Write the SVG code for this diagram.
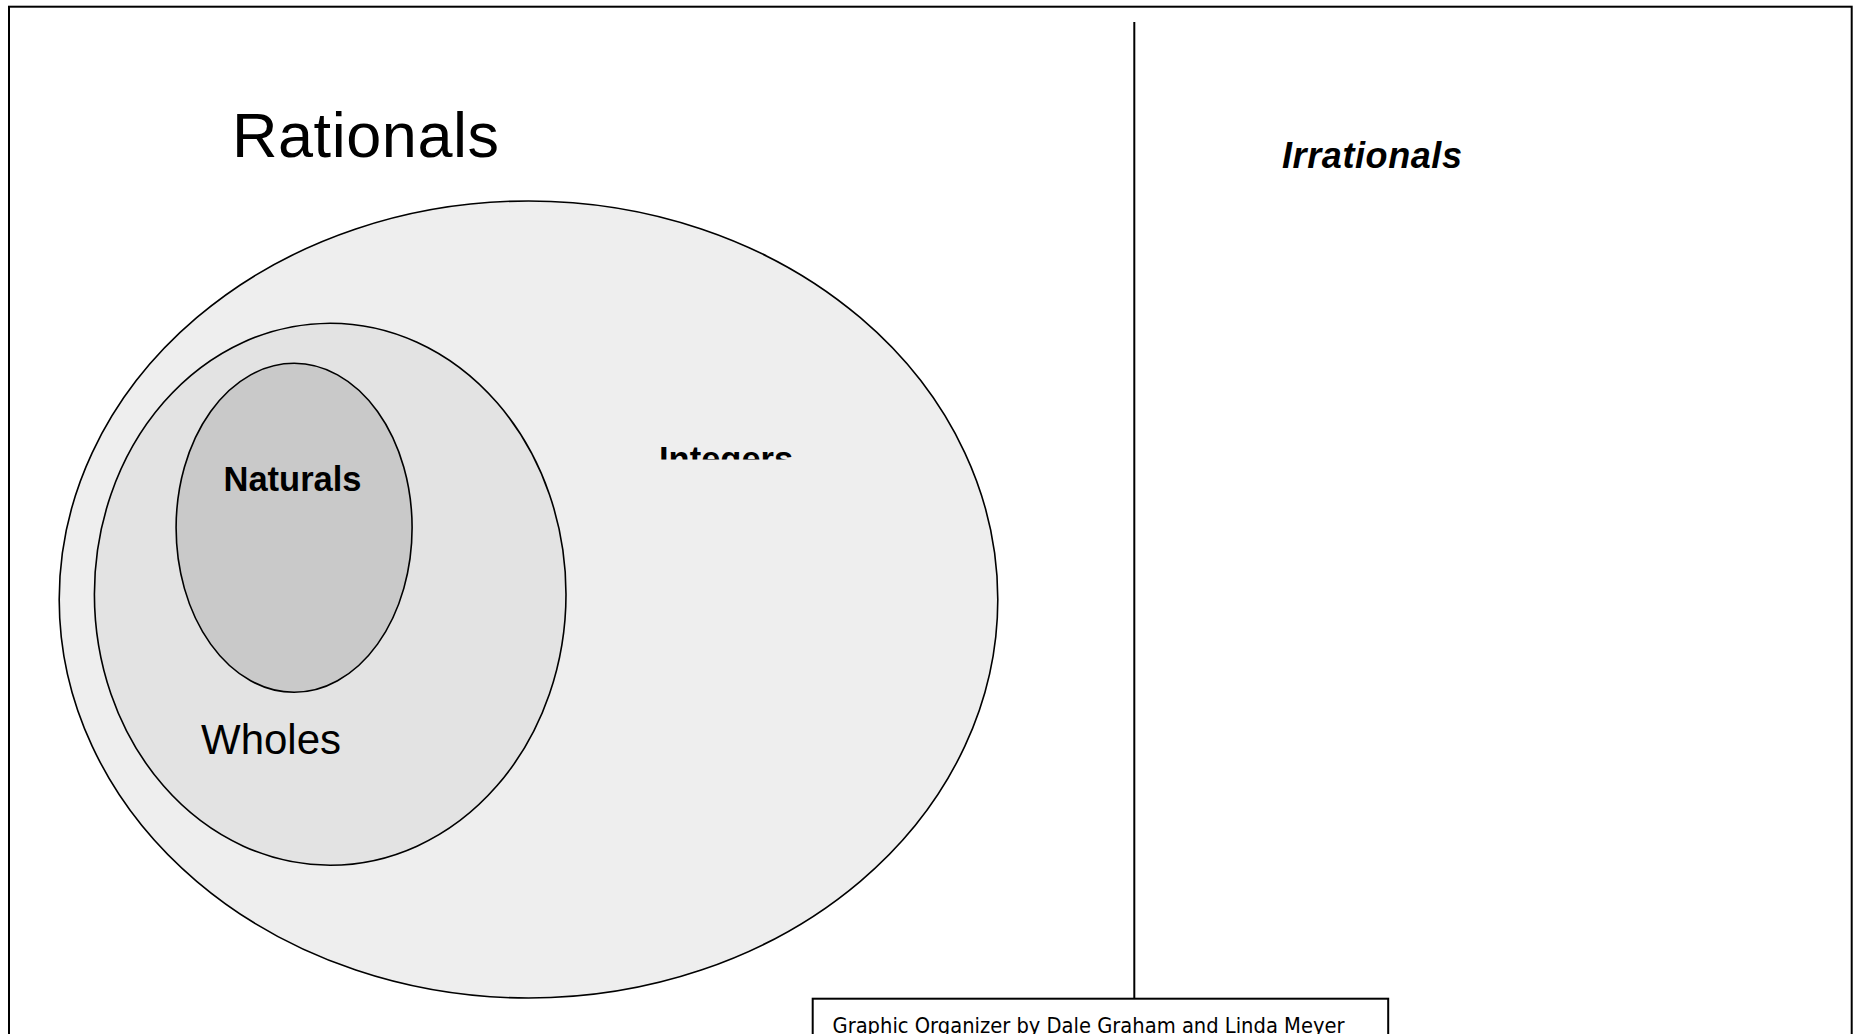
<svg xmlns="http://www.w3.org/2000/svg" width="1856" height="1034" viewBox="0 0 1856 1034">
<style>
.lbl{font-family:"Liberation Sans",Arial,sans-serif;fill:#000}
.ell{stroke:#000;stroke-width:1.6}
.frame{fill:none;stroke:#000;stroke-width:2}
</style>
<defs>
<clipPath id="intClip"><rect x="600" y="420" width="260" height="39.5"/></clipPath>
</defs>
<rect width="1856" height="1034" fill="#fff"/>
<g id="connectors">
<rect class="frame" x="9" y="6.7" width="1842.7" height="1100"/>
<line class="frame" x1="1134.3" y1="22" x2="1134.3" y2="999"/>
</g>
<g id="titles">
<text class="lbl" x="232" y="157" font-size="63" textLength="267">Rationals</text>
<text class="lbl" x="1282" y="168" font-size="36" font-weight="bold" font-style="italic" textLength="180">Irrationals</text>
</g>
<g id="integers">
<ellipse class="ell" cx="528.5" cy="599.5" rx="469.3" ry="398.5" fill="#eeeeee"/>
<text class="lbl" x="659" y="470.5" font-size="34.5" font-weight="bold" clip-path="url(#intClip)">Integers</text>
</g>
<g id="wholes">
<ellipse class="ell" cx="330.2" cy="594.2" rx="235.8" ry="271" fill="#e3e3e3"/>
<text class="lbl" x="201" y="754" font-size="42">Wholes</text>
</g>
<g id="naturals">
<ellipse class="ell" cx="294.1" cy="527.8" rx="118" ry="164.5" fill="#c9c9c9"/>
<text class="lbl" x="223.5" y="490.5" font-size="34.5" font-weight="bold">Naturals</text>
</g>
<g id="credit">
<rect class="frame" x="812.7" y="998.7" width="575.5" height="100" fill="#fff"/>
<text x="832.5" y="1033" font-family="'DejaVu Sans',sans-serif" font-size="21" textLength="512" lengthAdjust="spacingAndGlyphs" fill="#000">Graphic Organizer by Dale Graham and Linda Meyer</text>
</g>
</svg>
